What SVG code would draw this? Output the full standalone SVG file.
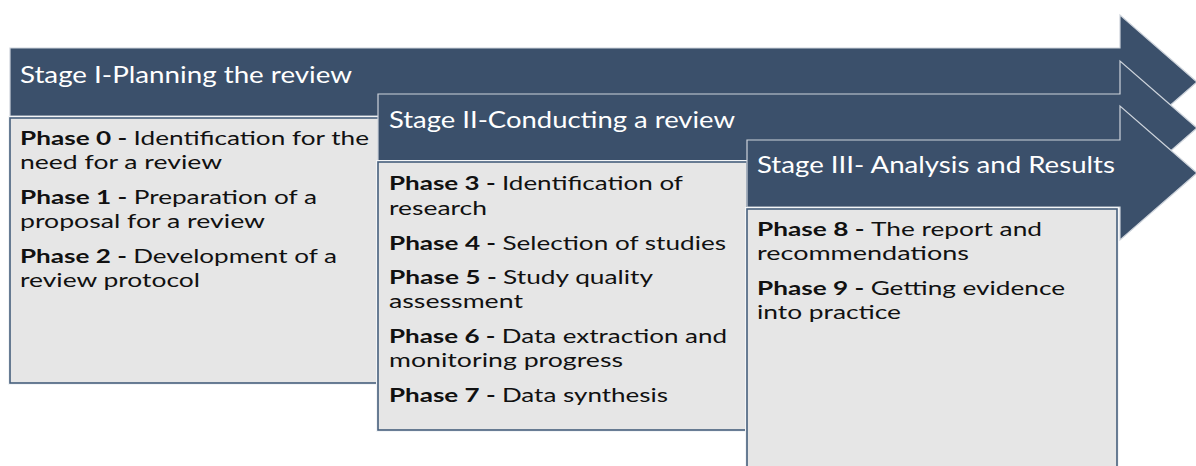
<svg xmlns="http://www.w3.org/2000/svg" width="1196" height="466" viewBox="0 0 1196 466">
<style>
.arrow{fill:#3b506b;stroke:#cdd3db;stroke-width:1.2;stroke-linejoin:miter}
.boxo{fill:none;stroke:#f3f5f7;stroke-width:4}
.box{fill:#e6e6e6;stroke:#465f7c;stroke-width:1.6}
.hd{font-family:Lato,"Open Sans",sans-serif;font-size:23.5px;fill:#ffffff}
.tx{font-family:Lato,"Open Sans",sans-serif;font-size:19.5px;fill:#111111}
.b{font-weight:bold}
</style>
<rect width="1196" height="466" fill="#ffffff"/>
<g id="stage1">
<path class="arrow" d="M10,48 H1120 V15 L1197,82 L1120,149 V116 H10 Z"/>
<text class="hd" x="20" y="83" textLength="332" lengthAdjust="spacingAndGlyphs">Stage I-Planning the review</text>
<rect class="boxo" x="10" y="118" width="369" height="265"/>
<rect class="box" x="10" y="118" width="369" height="265"/>
<text class="tx" x="20" y="145" textLength="349" lengthAdjust="spacingAndGlyphs"><tspan class="b">Phase 0 - </tspan>Identification for the</text>
<text class="tx" x="20" y="169" textLength="202" lengthAdjust="spacingAndGlyphs">need for a review</text>
<text class="tx" x="20" y="204" textLength="297" lengthAdjust="spacingAndGlyphs"><tspan class="b">Phase 1 - </tspan>Preparation of a</text>
<text class="tx" x="20" y="228" textLength="245" lengthAdjust="spacingAndGlyphs">proposal for a review</text>
<text class="tx" x="20" y="263" textLength="317" lengthAdjust="spacingAndGlyphs"><tspan class="b">Phase 2 - </tspan>Development of a</text>
<text class="tx" x="20" y="287" textLength="180" lengthAdjust="spacingAndGlyphs">review protocol</text>
</g>
<g id="stage2">
<path class="arrow" d="M378,94 H1120 V61 L1197,128 L1120,195 V162 H378 Z"/>
<text class="hd" x="389" y="128" textLength="346" lengthAdjust="spacingAndGlyphs">Stage II-Conducting a review</text>
<rect class="boxo" x="378" y="162" width="369" height="268"/>
<rect class="box" x="378" y="162" width="369" height="268"/>
<text class="tx" x="389" y="190" textLength="294" lengthAdjust="spacingAndGlyphs"><tspan class="b">Phase 3 - </tspan>Identification of</text>
<text class="tx" x="389" y="215" textLength="98" lengthAdjust="spacingAndGlyphs">research</text>
<text class="tx" x="389" y="250" textLength="337" lengthAdjust="spacingAndGlyphs"><tspan class="b">Phase 4 - </tspan>Selection of studies</text>
<text class="tx" x="389" y="284" textLength="264" lengthAdjust="spacingAndGlyphs"><tspan class="b">Phase 5 - </tspan>Study quality</text>
<text class="tx" x="389" y="308" textLength="134" lengthAdjust="spacingAndGlyphs">assessment</text>
<text class="tx" x="389" y="343" textLength="338" lengthAdjust="spacingAndGlyphs"><tspan class="b">Phase 6 - </tspan>Data extraction and</text>
<text class="tx" x="389" y="367" textLength="234" lengthAdjust="spacingAndGlyphs">monitoring progress</text>
<text class="tx" x="389" y="402" textLength="279" lengthAdjust="spacingAndGlyphs"><tspan class="b">Phase 7 - </tspan>Data synthesis</text>
</g>
<g id="stage3">
<path class="arrow" d="M747,140 H1120 V106 L1197,173 L1120,240 V207 H747 Z"/>
<text class="hd" x="757" y="173" textLength="358" lengthAdjust="spacingAndGlyphs">Stage III- Analysis and Results</text>
<rect class="boxo" x="747" y="209" width="370" height="262"/>
<rect class="box" x="747" y="209" width="370" height="262"/>
<text class="tx" x="757" y="236" textLength="285" lengthAdjust="spacingAndGlyphs"><tspan class="b">Phase 8 - </tspan>The report and</text>
<text class="tx" x="757" y="260" textLength="212" lengthAdjust="spacingAndGlyphs">recommendations</text>
<text class="tx" x="757" y="295" textLength="308" lengthAdjust="spacingAndGlyphs"><tspan class="b">Phase 9 - </tspan>Getting evidence</text>
<text class="tx" x="757" y="319" textLength="144" lengthAdjust="spacingAndGlyphs">into practice</text>
</g>
</svg>
